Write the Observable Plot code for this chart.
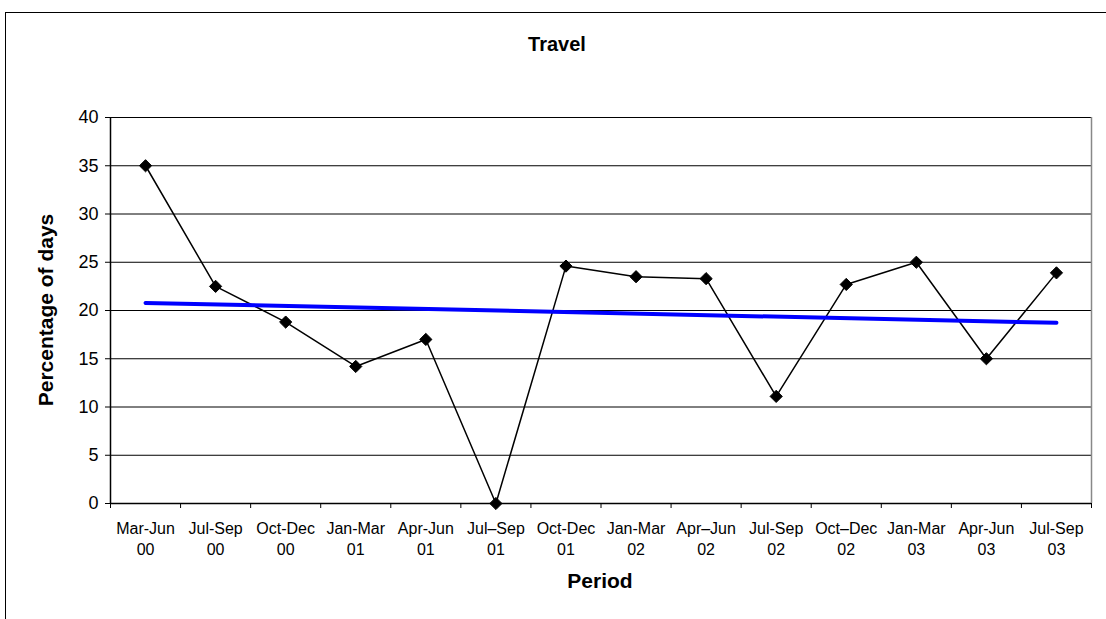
<!DOCTYPE html>
<html>
<head>
<meta charset="utf-8">
<script src="https://cdn.jsdelivr.net/npm/d3@7"></script>
<script src="https://cdn.jsdelivr.net/npm/@observablehq/plot@0.6"></script>
<style>
  html, body { margin: 0; padding: 0; background: #fff; }
  #wrap { position: relative; width: 1106px; height: 619px; overflow: hidden; font-family: "Liberation Sans", Arial, sans-serif; }
  #border { position: absolute; left: 5px; top: 12px; width: 1200px; height: 700px; border-left: 1px solid #000; border-top: 1px solid #000; }
  #chart { position: absolute; left: 0; top: 0; }
  .lbl { position: absolute; font-weight: bold; color: #000; white-space: nowrap; }
</style>
</head>
<body>
<div id="wrap">
  <div id="border"></div>
  <div id="chart"></div>
  <div class="lbl" id="title" style="left:557px; top:44px; font-size:20px; transform:translate(-50%,-50%);">Travel</div>
  <div class="lbl" id="xlab" style="left:600px; top:581px; font-size:21px; transform:translate(-50%,-50%);">Period</div>
  <div class="lbl" id="ylab" style="left:46px; top:310px; font-size:21px; transform:translate(-50%,-50%) rotate(-90deg);">Percentage of days</div>
</div>
<script>
const periods = ["Mar-Jun\n00", "Jul-Sep\n00", "Oct-Dec\n00", "Jan-Mar\n01", "Apr-Jun\n01", "Jul\u2013Sep\n01", "Oct-Dec\n01",
                 "Jan-Mar\n02", "Apr\u2013Jun\n02", "Jul-Sep\n02", "Oct\u2013Dec\n02", "Jan-Mar\n03", "Apr-Jun\n03", "Jul-Sep\n03"];
const values = [35, 22.5, 18.8, 14.2, 17.0, 0, 24.6, 23.5, 23.3, 11.1, 22.7, 25.0, 15.0, 23.9];
const yTicks = [0, 5, 10, 15, 20, 25, 30, 35, 40];

const data = values.map((v, i) => ({i, period: periods[i], value: v}));
const idx = periods.map((_, i) => i);
const bounds = periods.map((_, i) => i - 0.5).concat([periods.length - 0.5]);

const chart = Plot.plot({
  width: 1106,
  height: 619,
  marginLeft: 110,
  marginRight: 15,
  marginTop: 117,
  marginBottom: 116,
  style: {fontFamily: "'Liberation Sans', Arial, sans-serif", background: "transparent", color: "#000"},
  x: {type: "linear", domain: [-0.5, periods.length - 0.5]},
  y: {domain: [0, 40]},
  marks: [
    Plot.gridY(yTicks, {stroke: "#000", strokeOpacity: 1, strokeWidth: 1}),
    Plot.ruleX([periods.length - 0.5], {stroke: "#888", strokeWidth: 1.5}),
    Plot.axisY(yTicks, {tickSize: 5, tickPadding: 7, fontSize: 18, label: null, stroke: "#000"}),
    Plot.ruleX([-0.5], {stroke: "#000", strokeWidth: 1.5}),
    Plot.ruleY([0], {stroke: "#000", strokeWidth: 1.5}),
    Plot.axisX(bounds, {tickSize: 5, tickFormat: () => "", label: null, stroke: "#000"}),
    Plot.axisX(idx, {tickSize: 0, tickPadding: 16, fontSize: 16, lineHeight: 1.3, tickFormat: i => periods[i], label: null}),
    Plot.line(data, {x: "i", y: "value", stroke: "#000", strokeWidth: 1.5}),
    Plot.linearRegressionY(data, {x: "i", y: "value", stroke: "#0000ff", strokeWidth: 4, ci: 0}),
    Plot.dot(data, {x: "i", y: "value", symbol: "diamond2", r: 5.5, fill: "#000", stroke: "#000", strokeWidth: 1})
  ]
});
document.getElementById("chart").appendChild(chart);
</script>
</body>
</html>
